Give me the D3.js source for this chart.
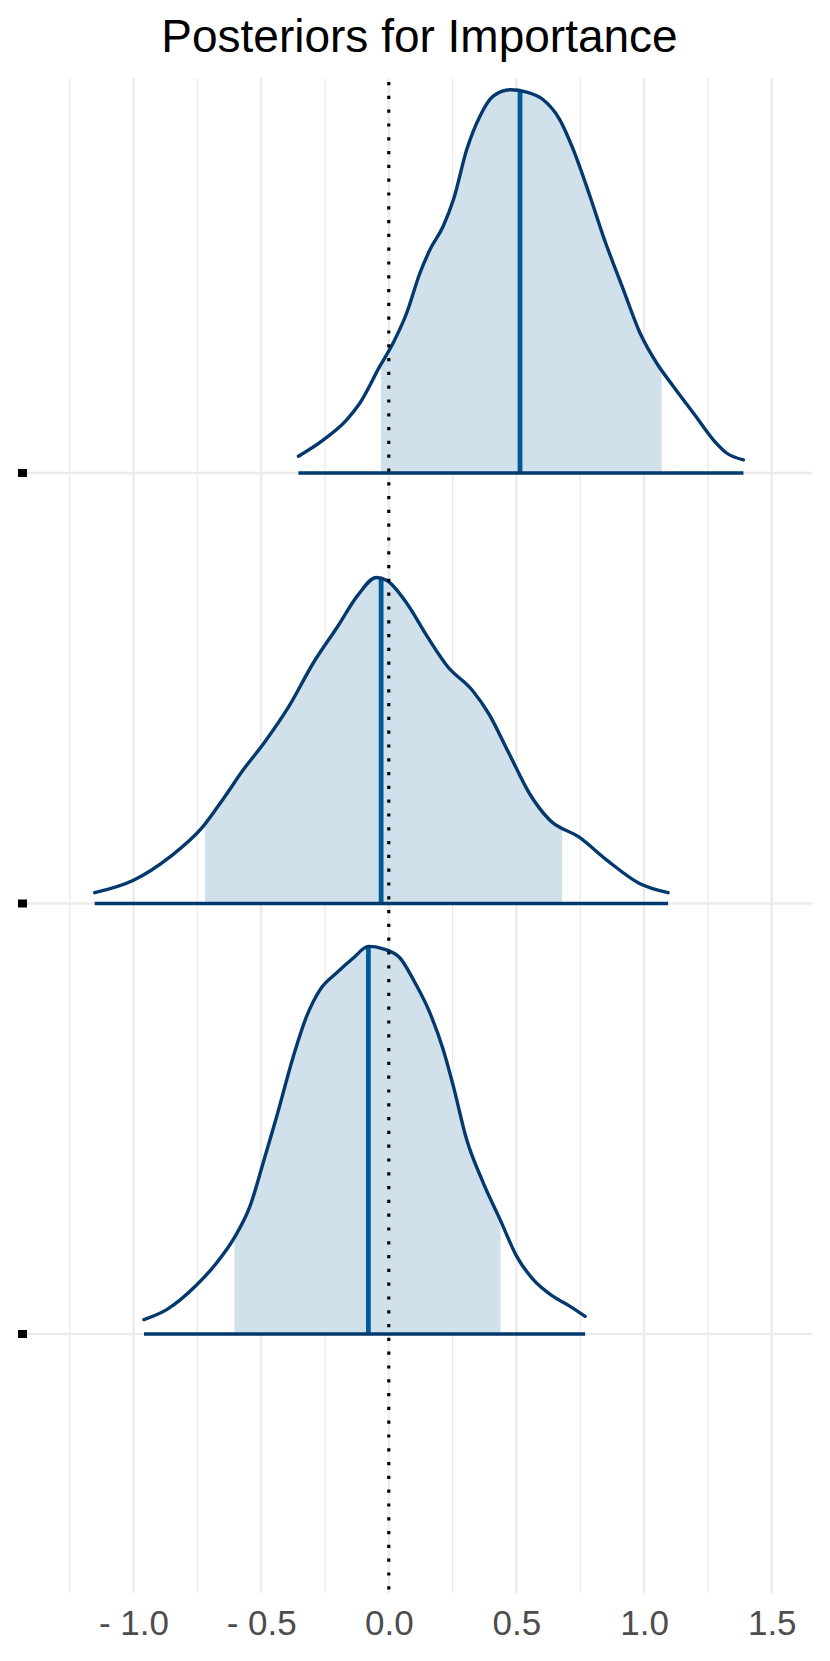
<!DOCTYPE html>
<html>
<head>
<meta charset="utf-8">
<script src="https://cdn.jsdelivr.net/npm/d3@7"></script>
<style>
  html, body { margin: 0; padding: 0; background: #ffffff; }
  svg { display: block; }
</style>
</head>
<body>
<div id="chart"></div>
<script>
// ---------- DATA ----------
const title = "Posteriors for Importance";
const categories = ["param1", "param2", "param3"];
const xTickValues = [-1.0, -0.5, 0.0, 0.5, 1.0, 1.5];
const xTickLabels = ["- 1.0", "- 0.5", "0.0", "0.5", "1.0", "1.5"];
const xMinorValues = [-1.25, -0.75, -0.25, 0.25, 0.75, 1.25];

// density curves: [x, density]
const density1 = [
  [-0.354, 0.042], [-0.256, 0.083], [-0.165, 0.133], [-0.113, 0.175], [-0.035, 0.267],
  [0.017, 0.325], [0.070, 0.400], [0.122, 0.500], [0.161, 0.558], [0.213, 0.617],
  [0.253, 0.683], [0.305, 0.808], [0.357, 0.892], [0.409, 0.942], [0.475, 0.958],
  [0.540, 0.952], [0.605, 0.933], [0.670, 0.883], [0.723, 0.808], [0.788, 0.692],
  [0.840, 0.592], [0.919, 0.458], [0.984, 0.350], [1.049, 0.275], [1.114, 0.217],
  [1.193, 0.150], [1.271, 0.083], [1.323, 0.050], [1.389, 0.033]
];
const density2 = [
  [-1.152, 0.027], [-1.000, 0.058], [-0.856, 0.117], [-0.728, 0.192], [-0.648, 0.262],
  [-0.568, 0.336], [-0.488, 0.402], [-0.392, 0.492], [-0.297, 0.600], [-0.201, 0.692],
  [-0.121, 0.771], [-0.049, 0.815], [-0.009, 0.808], [0.071, 0.750], [0.151, 0.667],
  [0.231, 0.592], [0.327, 0.533], [0.391, 0.475], [0.471, 0.375], [0.551, 0.275],
  [0.631, 0.208], [0.743, 0.167], [0.855, 0.108], [0.982, 0.050], [1.094, 0.027]
];
const density3 = [
  [-0.959, 0.036], [-0.870, 0.061], [-0.752, 0.123], [-0.674, 0.178], [-0.602, 0.244],
  [-0.544, 0.319], [-0.492, 0.428], [-0.439, 0.544], [-0.374, 0.694], [-0.322, 0.794],
  [-0.269, 0.861], [-0.204, 0.903], [-0.139, 0.940], [-0.080, 0.969], [-0.022, 0.963],
  [0.044, 0.940], [0.096, 0.886], [0.161, 0.803], [0.213, 0.711], [0.253, 0.619],
  [0.305, 0.486], [0.370, 0.378], [0.436, 0.286], [0.501, 0.194], [0.566, 0.136],
  [0.644, 0.094], [0.710, 0.069], [0.769, 0.044]
];
const densities = [density1, density2, density3];
// inner interval bounds and medians
const intervalLow = [-0.031, -0.720, -0.605];
const intervalHigh = [1.069, 0.678, 0.438];
const medians = [0.514, -0.030, -0.080];

// ---------- LAYOUT ----------
const W = 830, H = 1661;
const panel = { left: 27, right: 812, top: 78, bottom: 1593 };
const colors = {
  light: "#d1e1ec",
  midHighlight: "#005b96",
  dark: "#03396c",
  grid: "#ebebeb",
  axisText: "#4d4d4d"
};
const font = "'Liberation Sans', Arial, Helvetica, sans-serif";

const svg = d3.select("#chart").append("svg")
  .attr("width", W).attr("height", H);

const x = d3.scaleLinear()
  .domain([(panel.left - 388.8) / 255.3, (panel.right - 388.8) / 255.3])
  .range([panel.left, panel.right]);

const y = d3.scalePoint()
  .domain(categories)
  .range([473, 1334]);

const h = d3.scaleLinear().domain([0, 1]).range([0, 400]);

// ---------- GRID ----------
const grid = svg.append("g");
grid.selectAll("line.minor").data(xMinorValues).join("line")
  .attr("x1", d => x(d)).attr("x2", d => x(d))
  .attr("y1", panel.top).attr("y2", panel.bottom)
  .attr("stroke", colors.grid).attr("stroke-width", 1.3);
grid.selectAll("line.major").data(xTickValues).join("line")
  .attr("x1", d => x(d)).attr("x2", d => x(d))
  .attr("y1", panel.top).attr("y2", panel.bottom)
  .attr("stroke", colors.grid).attr("stroke-width", 2.4);
grid.selectAll("line.hgrid").data(categories).join("line")
  .attr("x1", panel.left).attr("x2", panel.right)
  .attr("y1", d => y(d)).attr("y2", d => y(d))
  .attr("stroke", colors.grid).attr("stroke-width", 2.4);

// ---------- RIDGES ----------
const defs = svg.append("defs");
categories.forEach((cat, i) => {
  const base = y(cat);
  const data = densities[i];
  const g = svg.append("g");

  const area = d3.area()
    .x(d => x(d[0]))
    .y0(base)
    .y1(d => base - h(d[1]))
    .curve(d3.curveMonotoneX);
  const line = d3.line()
    .x(d => x(d[0]))
    .y(d => base - h(d[1]))
    .curve(d3.curveMonotoneX);

  const clipId = "clip" + i;
  defs.append("clipPath").attr("id", clipId)
    .append("rect")
    .attr("x", x(intervalLow[i]))
    .attr("width", x(intervalHigh[i]) - x(intervalLow[i]))
    .attr("y", 0).attr("height", base + 0.5);

  g.append("path").datum(data)
    .attr("d", area)
    .attr("fill", colors.light)
    .attr("clip-path", `url(#${clipId})`);

  // median line, height interpolated from the density points
  const m = medians[i];
  let dm = 0;
  for (let k = 0; k < data.length - 1; k++) {
    if (m >= data[k][0] && m <= data[k + 1][0]) {
      const t = (m - data[k][0]) / (data[k + 1][0] - data[k][0]);
      dm = data[k][1] + t * (data[k + 1][1] - data[k][1]);
    }
  }
  g.append("line")
    .attr("x1", x(m)).attr("x2", x(m))
    .attr("y1", base).attr("y2", base - h(dm))
    .attr("stroke", colors.midHighlight).attr("stroke-width", 4.8);

  g.append("path").datum(data)
    .attr("d", line)
    .attr("fill", "none")
    .attr("stroke", colors.dark)
    .attr("stroke-width", 3.4)
    .attr("stroke-linecap", "round");

  g.append("line")
    .attr("x1", x(data[0][0])).attr("x2", x(data[data.length - 1][0]))
    .attr("y1", base).attr("y2", base)
    .attr("stroke", colors.dark).attr("stroke-width", 3.4);
});

// ---------- ZERO LINE ----------
svg.append("line")
  .attr("x1", x(0)).attr("x2", x(0))
  .attr("y1", panel.top + 4).attr("y2", panel.bottom)
  .attr("stroke", "#000").attr("stroke-width", 3.2)
  .attr("stroke-dasharray", "3.2 10.6");

// ---------- AXES ----------
const xAxis = d3.axisBottom(x)
  .tickValues(xTickValues)
  .tickSize(0)
  .tickPadding(0)
  .tickFormat((d, i) => xTickLabels[i]);
const xg = svg.append("g")
  .attr("transform", `translate(0, ${panel.bottom})`)
  .call(xAxis);
xg.select(".domain").remove();
xg.selectAll("text")
  .attr("y", 42)
  .attr("dy", 0)
  .attr("fill", colors.axisText)
  .style("font-family", font)
  .style("font-size", "35px");

// y tick labels (rendered as small filled boxes in the reference)
svg.append("g").selectAll("rect").data(categories).join("rect")
  .attr("x", 18).attr("width", 9)
  .attr("y", d => y(d) - 4).attr("height", 8)
  .attr("fill", "#000");

// ---------- TITLE ----------
svg.append("text")
  .attr("x", (panel.left + panel.right) / 2)
  .attr("y", 52)
  .attr("text-anchor", "middle")
  .style("font-family", font)
  .style("font-size", "46px")
  .attr("fill", "#000")
  .text(title);
</script>
</body>
</html>
